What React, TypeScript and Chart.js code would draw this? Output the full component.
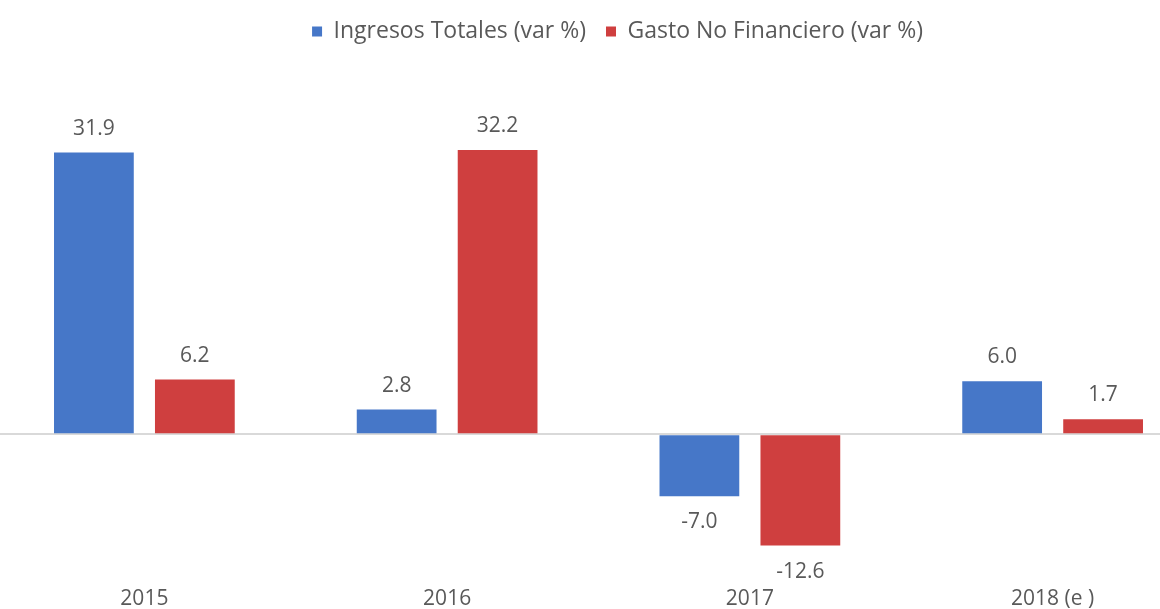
import React, { useEffect, useRef } from "react";
import { Chart, registerables } from "chart.js";

Chart.register(...registerables);

const categories = ["2015", "2016", "2017", "2018 (e )"];
const ingresos = [31.9, 2.8, -7.0, 6.0];
const gasto = [6.2, 32.2, -12.6, 1.7];
const seriesNames = ["Ingresos Totales (var %)", "Gasto No Financiero (var %)"];

const FONT = "'Open Sans'";
const TEXT = "#595959";

const labelPlugin = {
  id: "barValueLabels",
  afterDatasetsDraw(chart: any) {
    const ctx = chart.ctx;
    ctx.save();
    ctx.font = `21px ${FONT}`;
    ctx.fillStyle = TEXT;
    ctx.textAlign = "center";
    ctx.textBaseline = "middle";
    chart.data.datasets.forEach((ds: any, di: number) => {
      const meta = chart.getDatasetMeta(di);
      meta.data.forEach((el: any, i: number) => {
        const v = ds.data[i] as number;
        const y = v >= 0 ? el.y - 24 : el.y + 26;
        ctx.fillText(v.toFixed(1), el.x, y);
      });
    });
    ctx.restore();
  },
};

export default function App() {
  const ref = useRef<HTMLCanvasElement | null>(null);
  useEffect(() => {
    if (!ref.current) return;
    const chart = new Chart(ref.current, {
      type: "bar",
      data: {
        labels: categories,
        datasets: [
          {
            label: seriesNames[0],
            data: ingresos,
            backgroundColor: "#4677C8",
            barPercentage: 0.79,
            categoryPercentage: 0.667,
          },
          {
            label: seriesNames[1],
            data: gasto,
            backgroundColor: "#CF3F3F",
            barPercentage: 0.79,
            categoryPercentage: 0.667,
          },
        ],
      },
      options: {
        responsive: false,
        animation: false,
        layout: { padding: { top: 0, bottom: 0, left: 0, right: 0 } },
        plugins: {
          legend: {
            position: "top",
            labels: {
              boxWidth: 10,
              boxHeight: 10,
              padding: 20,
              color: TEXT,
              font: { family: FONT, size: 23 },
            },
          },
          tooltip: { enabled: false },
        },
        scales: {
          x: {
            grid: { display: false, drawTicks: false },
            border: { display: false },
            ticks: {
              color: TEXT,
              font: { family: FONT, size: 21 },
              padding: 20,
            },
          },
          y: {
            position: "right",
            min: -15,
            max: 43.17,
            afterFit: (s: any) => {
              s.width = 38;
            },
            ticks: { display: false, stepSize: 5 },
            border: { display: false },
            grid: {
              drawTicks: false,
              lineWidth: 2,
              color: (c: any) => (c.tick && c.tick.value === 0 ? "#d9d9d9" : "rgba(0,0,0,0)"),
            },
          },
        },
      },
      plugins: [labelPlugin],
    });
    return () => chart.destroy();
  }, []);

  return (
    <div
      style={{
        position: "fixed",
        left: 0,
        top: 0,
        width: 1160,
        height: 609,
        overflow: "hidden",
        background: "#ffffff",
      }}
    >
      <canvas
        ref={ref}
        width={1249}
        height={632}
        style={{ position: "absolute", left: -7, top: 0, width: 1249, height: 632 }}
      />
    </div>
  );
}
